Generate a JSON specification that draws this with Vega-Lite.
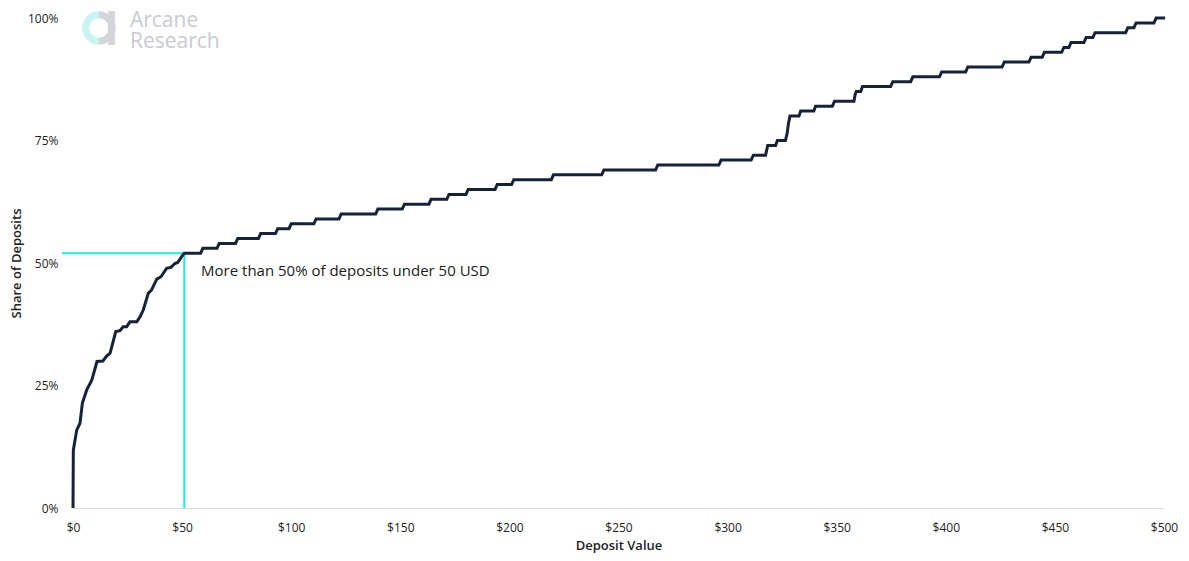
{
  "$schema": "https://vega.github.io/schema/vega-lite/v6.json",
  "width": 1091,
  "height": 490,
  "autosize": "none",
  "padding": {"left": 73, "top": 18, "right": 25, "bottom": 53},
  "background": "white",
  "config": {
    "view": {"stroke": null},
    "font": "Open Sans"
  },
  "datasets": {
    "curve": [
      {"x": 0, "y": 0}, {"x": 0.15, "y": 11.8}, {"x": 1.7, "y": 15.9}, {"x": 3.2, "y": 17.3}, {"x": 4.3, "y": 21.4},
      {"x": 6.3, "y": 24.1}, {"x": 8.6, "y": 26.1}, {"x": 11.0, "y": 29.9}, {"x": 13.7, "y": 30}, {"x": 15.4, "y": 31},
      {"x": 17, "y": 31.6}, {"x": 19.6, "y": 36}, {"x": 21.5, "y": 36.2}, {"x": 23, "y": 37}, {"x": 24.6, "y": 37},
      {"x": 26.1, "y": 38}, {"x": 29.2, "y": 38}, {"x": 30.7, "y": 39}, {"x": 32.2, "y": 40.4}, {"x": 34.5, "y": 43.8},
      {"x": 36, "y": 44.5}, {"x": 38.4, "y": 46.7}, {"x": 40.3, "y": 47.2}, {"x": 42.9, "y": 48.9}, {"x": 44.9, "y": 49.1},
      {"x": 46.7, "y": 49.9}, {"x": 48, "y": 50.1}, {"x": 49.8, "y": 51.3}, {"x": 51, "y": 52},
      {"x": 58.5, "y": 52}, {"x": 59.5, "y": 53}, {"x": 66, "y": 53}, {"x": 67, "y": 54}, {"x": 74.5, "y": 54}, {"x": 75.5, "y": 55},
      {"x": 85, "y": 55}, {"x": 86, "y": 56}, {"x": 92.8, "y": 56}, {"x": 93.8, "y": 57}, {"x": 99, "y": 57}, {"x": 100, "y": 58},
      {"x": 110.4, "y": 58}, {"x": 111.4, "y": 59}, {"x": 121.9, "y": 59}, {"x": 122.9, "y": 60}, {"x": 138.7, "y": 60}, {"x": 139.7, "y": 61},
      {"x": 150.9, "y": 61}, {"x": 151.9, "y": 62}, {"x": 163.1, "y": 62}, {"x": 164.1, "y": 63}, {"x": 171.3, "y": 63}, {"x": 172.3, "y": 64},
      {"x": 180.1, "y": 64}, {"x": 181.1, "y": 65}, {"x": 193.4, "y": 65}, {"x": 194.4, "y": 66}, {"x": 201, "y": 66}, {"x": 202, "y": 67},
      {"x": 219.2, "y": 67}, {"x": 220.2, "y": 68}, {"x": 242.3, "y": 68}, {"x": 243.3, "y": 69}, {"x": 267, "y": 69}, {"x": 268, "y": 70},
      {"x": 296, "y": 70}, {"x": 297, "y": 71}, {"x": 310.8, "y": 71}, {"x": 311.8, "y": 72}, {"x": 317.4, "y": 72}, {"x": 318.4, "y": 74},
      {"x": 322, "y": 74}, {"x": 322.8, "y": 75}, {"x": 326.5, "y": 75}, {"x": 327.3, "y": 76.5}, {"x": 327.9, "y": 78.5}, {"x": 328.6, "y": 80},
      {"x": 332.7, "y": 80}, {"x": 333.5, "y": 81}, {"x": 339.5, "y": 81}, {"x": 340.3, "y": 82}, {"x": 348, "y": 82}, {"x": 349, "y": 83},
      {"x": 357.9, "y": 83}, {"x": 358.5, "y": 84.5}, {"x": 359, "y": 85}, {"x": 361, "y": 85}, {"x": 361.8, "y": 86},
      {"x": 374.7, "y": 86}, {"x": 375.7, "y": 87}, {"x": 383.9, "y": 87}, {"x": 384.9, "y": 88}, {"x": 397.1, "y": 88}, {"x": 398.1, "y": 89},
      {"x": 409.1, "y": 89}, {"x": 410.1, "y": 90}, {"x": 425.8, "y": 90}, {"x": 426.8, "y": 91}, {"x": 438.1, "y": 91}, {"x": 439.1, "y": 92},
      {"x": 444.2, "y": 92}, {"x": 445.2, "y": 93}, {"x": 453.1, "y": 93}, {"x": 454.1, "y": 94}, {"x": 456.4, "y": 94}, {"x": 457.4, "y": 95},
      {"x": 463.3, "y": 95}, {"x": 464.3, "y": 96}, {"x": 467.4, "y": 96}, {"x": 468.4, "y": 97}, {"x": 482.4, "y": 97}, {"x": 483.4, "y": 98},
      {"x": 486.2, "y": 98}, {"x": 487.2, "y": 99}, {"x": 495.4, "y": 99}, {"x": 496.4, "y": 100}, {"x": 500.5, "y": 100}
    ]
  },
  "layer": [
    {
      "data": {"values": [{"x": -5, "x2": 51, "y": 52}]},
      "mark": {"type": "rule", "color": "#1de9f0", "strokeWidth": 2},
      "encoding": {
        "x": {"field": "x", "type": "quantitative"},
        "x2": {"field": "x2"},
        "y": {"field": "y", "type": "quantitative"}
      }
    },
    {
      "data": {"values": [{"x": 51, "y": 0, "y2": 52}]},
      "mark": {"type": "rule", "color": "#1de9f0", "strokeWidth": 2},
      "encoding": {
        "x": {"field": "x", "type": "quantitative"},
        "y": {"field": "y", "type": "quantitative"},
        "y2": {"field": "y2"}
      }
    },
    {
      "data": {"name": "curve"},
      "mark": {"type": "line", "color": "#15223a", "strokeWidth": 3, "interpolate": "linear"},
      "encoding": {
        "x": {
          "field": "x", "type": "quantitative",
          "scale": {"domain": [0, 500], "nice": false},
          "axis": {
            "title": "Deposit Value", "values": [0, 50, 100, 150, 200, 250, 300, 350, 400, 450, 500],
            "format": "$.0f", "grid": false, "ticks": false, "labelFlush": false, "labelOverlap": false,
            "domainColor": "#d9d9d9", "domainWidth": 1,
            "labelFont": "Open Sans", "labelFontSize": 12, "labelColor": "#222222", "labelPadding": 14,
            "titleFont": "Open Sans", "titleFontSize": 13, "titleFontWeight": 600, "titleColor": "#222222", "titlePadding": 6
          }
        },
        "y": {
          "field": "y", "type": "quantitative",
          "scale": {"domain": [0, 100], "nice": false},
          "axis": {
            "title": "Share of Deposits", "values": [0, 25, 50, 75, 100],
            "labelExpr": "datum.value + '%'", "grid": false, "ticks": false, "domain": false, "labelFlush": false,
            "labelFont": "Open Sans", "labelFontSize": 12, "labelColor": "#222222", "labelPadding": 15,
            "titleFont": "Open Sans", "titleFontSize": 13, "titleFontWeight": 600, "titleColor": "#222222", "titlePadding": 4
          }
        }
      }
    },
    {
      "data": {"values": [{"x": 58.7, "y": 48.4, "label": "More than 50% of deposits under 50 USD"}]},
      "mark": {"type": "text", "align": "left", "baseline": "middle", "font": "Open Sans", "fontSize": 15, "color": "#1a1a1a"},
      "encoding": {
        "x": {"field": "x", "type": "quantitative"},
        "y": {"field": "y", "type": "quantitative"},
        "text": {"field": "label"}
      }
    },
    {
      "data": {"values": [{"x": 26.1, "y": 98.16, "label": ["Arcane", "Research"]}]},
      "mark": {"type": "text", "align": "left", "baseline": "alphabetic", "font": "Open Sans", "fontSize": 21, "lineHeight": 21, "fontWeight": 500, "color": "#c8cad1"},
      "encoding": {
        "x": {"field": "x", "type": "quantitative"},
        "y": {"field": "y", "type": "quantitative"},
        "text": {"field": "label"}
      }
    },
    {
      "data": {"values": [{"x": 11.9, "y": 97.96}]},
      "mark": {"type": "point", "shape": "M 0 -1 A 1 1 0 0 0 0 1", "filled": false, "stroke": "#c8f4f4", "strokeWidth": 7, "size": 700, "opacity": 1},
      "encoding": {
        "x": {"field": "x", "type": "quantitative"},
        "y": {"field": "y", "type": "quantitative"}
      }
    },
    {
      "data": {"values": [{"x": 11.9, "y": 97.96}]},
      "mark": {"type": "point", "shape": "M 0 -1 A 1 1 0 0 1 0 1", "filled": false, "stroke": "#d4d5db", "strokeWidth": 7, "size": 700, "opacity": 1},
      "encoding": {
        "x": {"field": "x", "type": "quantitative"},
        "y": {"field": "y", "type": "quantitative"}
      }
    },
    {
      "data": {"values": [{"x": 17.6, "y": 101.4, "y2": 94.5}]},
      "mark": {"type": "rule", "color": "#d4d5db", "strokeWidth": 7},
      "encoding": {
        "x": {"field": "x", "type": "quantitative"},
        "y": {"field": "y", "type": "quantitative"},
        "y2": {"field": "y2"}
      }
    }
  ]
}
